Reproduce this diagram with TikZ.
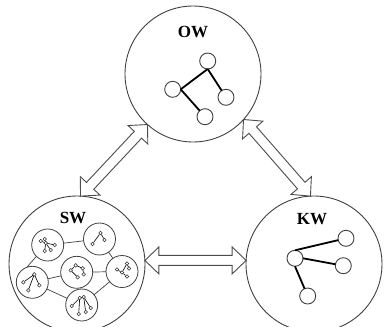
\documentclass[tikz,border=0pt]{standalone}
\usepackage{fontspec}
\setmainfont{Liberation Serif}
\usetikzlibrary{calc}
\tikzset{
 world/.style={circle, draw=black!75, line width=0.9pt, minimum size=136pt, inner sep=0pt, outer sep=0pt},
 gnode/.style={circle, draw=black!75, fill=white, line width=0.9pt, minimum size=16pt, inner sep=0pt, outer sep=0pt},
 gedge/.style={line width=1.8pt, black},
 sub/.style={circle, draw=black!75, fill=white, line width=0.8pt, minimum size=32pt, inner sep=0pt, outer sep=0pt},
 subedge/.style={black!75, line width=0.7pt},
 tnode/.style={circle, draw=black!80, fill=white, line width=0.5pt, minimum size=3.6pt, inner sep=0pt, outer sep=0pt},
 tedge/.style={black, line width=0.6pt},
 lbl/.style={font=\bfseries\fontsize{17}{17}\selectfont, inner sep=0pt},
 arrowline/.style={draw=black!70, line width=0.9pt, fill=white, line join=miter}
}
\newcommand\dblarr[2]{%
 \coordinate (A) at (#1); \coordinate (B) at (#2);
 \coordinate (Ab) at ($(A)!14pt!(B)$);
 \coordinate (Bb) at ($(B)!14pt!(A)$);
 \draw[arrowline] (A) -- ($(Ab)!13.5pt!90:(B)$) -- ($(Ab)!5pt!90:(B)$)
   -- ($(Bb)!5pt!-90:(A)$) -- ($(Bb)!13.5pt!-90:(A)$) -- (B)
   -- ($(Bb)!13.5pt!90:(A)$) -- ($(Bb)!5pt!90:(A)$)
   -- ($(Ab)!5pt!-90:(B)$) -- ($(Ab)!13.5pt!-90:(B)$) -- cycle;}
\newcommand\tinytree[3]{%
 \begin{scope}[shift={(#1)}]
 \foreach \n/\x/\y in {#2} \node[tnode] (#1\n) at (\x,\y) {};
 \end{scope}
 \foreach \a/\b in {#3} \draw[tedge] (#1\a) -- (#1\b);}
\begin{document}
\begin{tikzpicture}[x=1pt,y=-1pt]
\useasboundingbox (0,0) rectangle (384,327);
% worlds
\node[world] (OW) at (193,74) {};
\node[world] (SW) at (77,264) {};
\node[world] (KW) at (314,264) {};
\node[lbl] (OWl) at (193,32) {OW};
\node[lbl] (SWl) at (73,218) {SW};
\node[lbl] (KWl) at (312,219) {KW};
% arrows
\dblarr{OW.228}{SW.87}
\dblarr{OW.318}{KW.93}
\dblarr{SW.3}{KW.177}
% OW graph
\node[gnode] (ot) at (207.7,61) {};
\node[gnode] (ol) at (172.7,89.3) {};
\node[gnode] (or) at (226,97.3) {};
\node[gnode] (ob) at (205,116.7) {};
\draw[gedge] (ot.south) -- (ol.east);
\draw[gedge] (ot.south) -- (or);
\draw[gedge] (ol.east) -- (ob);
% KW graph
\node[gnode] (kh) at (295,258.3) {};
\node[gnode] (kt) at (346,238.3) {};
\node[gnode] (kr) at (343.3,265.7) {};
\node[gnode] (kb) at (307.7,296) {};
\draw[gedge] (kh.north) -- (kt);
\draw[gedge] (kh.east) -- (kr);
\draw[gedge] (kh.south) -- (kb);
% SW sub-worlds
\node[sub] (c1) at (47.7,245) {};
\node[sub] (c2) at (99.5,239) {};
\node[sub] (c3) at (32.3,282.3) {};
\node[sub] (c4) at (76.7,272.3) {};
\node[sub] (c5) at (122,271.5) {};
\node[sub] (c6) at (81.7,305) {};
\draw[subedge] (c1) -- (c2);
\draw[subedge] (c1.225) -- (c3.110);
\draw[subedge] (c3) -- (c4);
\draw[subedge] (c4) -- (c5);
\draw[subedge] (c2) -- (c5);
\draw[subedge] (c3) -- (c6);
\draw[subedge] (c5) -- (c6);
% tiny graphs
\tinytree{c1}{a/-7/-4, b/-3/-6, h/-2/-2, c/7/0, d/-3/6, e/3/5}{h/a, h/b, h/c, h/d, h/e}
\tinytree{c2}{t/1/-6, l/-7/5, r/5/1}{t/l, t/r}
\tinytree{c3}{t/2/-8, l/-9/0, b/-4/8, r/7/3}{t/l, t/b, t/r}
\tinytree{c4}{a/-1/-7, l/-6/-2, r/6/-4, s/7/2, b/1/5}{a/l, a/r, l/b, r/s}
\tinytree{c5}{a/-5/-2, b/5/-8, c/7/-3, h/0/1, d/5/5}{h/a, h/b, b/c, h/d}
\tinytree{c6}{p/-2/-7, q/2/-8, l/-10/1, r/9/3, u/-3/9, v/4/7}{p/l, p/u, p/q, q/r, q/v}
\end{tikzpicture}
\end{document}
